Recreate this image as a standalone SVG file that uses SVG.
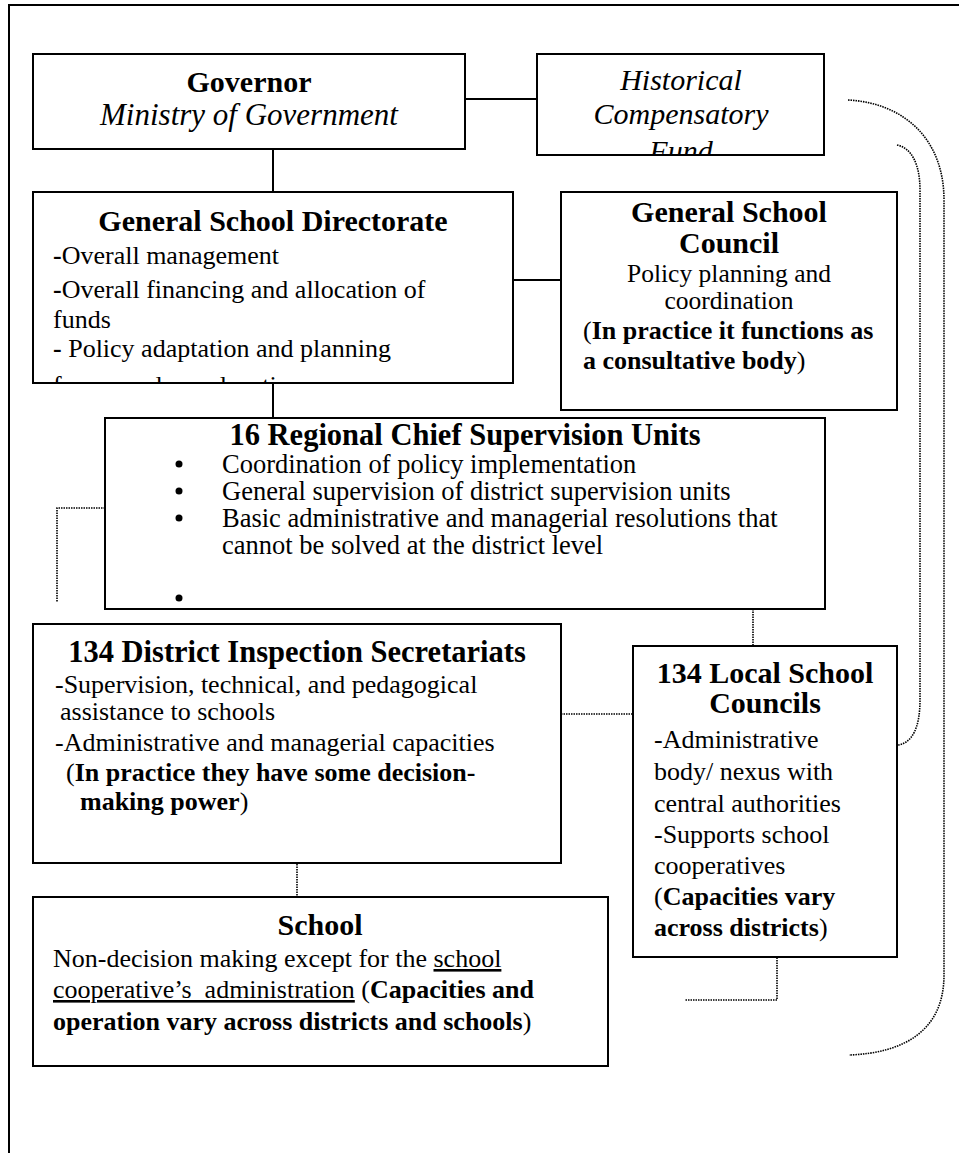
<svg xmlns="http://www.w3.org/2000/svg" width="959" height="1153" viewBox="0 0 959 1153">
<style>
text{font-family:"Liberation Serif","Times New Roman",serif;fill:#000}
.t{font-size:30px;font-weight:bold;text-anchor:middle}
.it{font-size:30px;font-style:italic;text-anchor:middle}
.b{font-size:26px}
.bc{font-size:25.5px;text-anchor:middle}
.bold{font-weight:bold}
.box{fill:#fff;stroke:#000;stroke-width:2}
.solid{fill:none;stroke:#000;stroke-width:2}
.dot{fill:none;stroke:#000;stroke-width:1.6;stroke-dasharray:1.5 1}
</style>
<defs>
<clipPath id="clipHist"><rect x="537" y="54" width="287" height="100"/></clipPath>
<clipPath id="clipDir"><rect x="33" y="192" width="480" height="190"/></clipPath>
</defs>
<rect x="0" y="0" width="959" height="1153" fill="#fff"/>
<path class="solid" d="M9,1153 V5 H959"/>

<g id="connectors">
<path class="solid" d="M465,99 H537"/>
<path class="solid" d="M273,149 V192"/>
<path class="solid" d="M513,280 H561"/>
<path class="solid" d="M273,383 V418"/>
<path class="dot" d="M105,508 H57 V602"/>
<path class="dot" d="M753,599 V646"/>
<path class="dot" d="M561,714 H633"/>
<path class="dot" d="M297,849 V897"/>
<path class="dot" d="M777,940 V1000 H685"/>
<path class="dot" d="M848,100 C905,103 944,140 944,200 L944,975 C944,1030 905,1053 849,1055"/>
<path class="dot" d="M897,145 C912,148 920,165 920,190 L920,700 C920,728 912,743 898,745"/>
</g>

<g id="governor">
<rect class="box" x="33" y="54" width="432" height="95"/>
<text class="t" x="249" y="92">Governor</text>
<text class="it" x="249" y="125" style="font-size:31px">Ministry of Government</text>
</g>

<g id="historical-fund">
<rect class="box" x="537" y="54" width="287" height="101"/>
<g clip-path="url(#clipHist)">
<text class="it" x="681" y="90">Historical</text>
<text class="it" x="681" y="124">Compensatory</text>
<text class="it" x="681" y="161">Fund</text>
</g>
</g>

<g id="directorate">
<rect class="box" x="33" y="192" width="480" height="191"/>
<text class="t" x="273" y="231">General School Directorate</text>
<g clip-path="url(#clipDir)">
<text class="b" x="53" y="264"><tspan class="bold">-</tspan>Overall management</text>
<text class="b" x="53" y="298"><tspan class="bold">-</tspan>Overall financing and allocation of</text>
<text class="b" x="53" y="328">funds</text>
<text class="b" x="53" y="357"><tspan class="bold">-</tspan> Policy adaptation and planning</text>
<text class="b" x="53" y="394">for secondary education</text>
</g>
</g>

<g id="council">
<rect class="box" x="561" y="192" width="336" height="218"/>
<text class="t" x="729" y="222">General School</text>
<text class="t" x="729" y="253">Council</text>
<text class="bc" x="729" y="282">Policy planning and</text>
<text class="bc" x="729" y="309">coordination</text>
<text class="b" x="583" y="339">(<tspan class="bold">In practice it functions as</tspan></text>
<text class="b" x="583" y="369"><tspan class="bold">a consultative body</tspan>)</text>
</g>

<g id="regional">
<rect class="box" x="105" y="418" width="720" height="191"/>
<text class="t" x="465" y="445" style="font-size:30.5px">16 Regional Chief Supervision Units</text>
<circle cx="179" cy="464" r="3.5"/>
<circle cx="179" cy="491" r="3.5"/>
<circle cx="179" cy="518" r="3.5"/>
<circle cx="179" cy="598" r="3.5"/>
<text class="b" x="222" y="473" style="font-size:26.5px">Coordination of policy implementation</text>
<text class="b" x="222" y="500" style="font-size:26.5px">General supervision of district supervision units</text>
<text class="b" x="222" y="527" style="font-size:26.5px">Basic administrative and managerial resolutions that</text>
<text class="b" x="222" y="554" style="font-size:26.5px">cannot be solved at the district level</text>
</g>

<g id="district">
<rect class="box" x="33" y="624" width="528" height="239"/>
<text class="t" x="297" y="662" style="font-size:30.5px">134 District Inspection Secretariats</text>
<text class="b" x="55" y="693">-Supervision, technical, and pedagogical</text>
<text class="b" x="60" y="720">assistance to schools</text>
<text class="b" x="55" y="751">-Administrative and managerial capacities</text>
<text class="b" x="66" y="781">(<tspan class="bold">In practice they have some decision-</tspan></text>
<text class="b" x="80" y="810"><tspan class="bold">making power</tspan>)</text>
</g>

<g id="local-councils">
<rect class="box" x="633" y="646" width="264" height="311"/>
<text class="t" x="765" y="683">134 Local School</text>
<text class="t" x="765" y="713">Councils</text>
<text class="b" x="654" y="748">-Administrative</text>
<text class="b" x="654" y="780">body/ nexus with</text>
<text class="b" x="654" y="812">central authorities</text>
<text class="b" x="654" y="843">-Supports school</text>
<text class="b" x="654" y="874">cooperatives</text>
<text class="b" x="654" y="905">(<tspan class="bold">Capacities vary</tspan></text>
<text class="b" x="654" y="936"><tspan class="bold">across districts</tspan>)</text>
</g>

<g id="school">
<rect class="box" x="33" y="897" width="575" height="169"/>
<text class="t" x="320" y="935">School</text>
<text class="b" x="53" y="967">Non-decision making except for the <tspan text-decoration="underline">school</tspan></text>
<text class="b" x="53" y="998" xml:space="preserve"><tspan text-decoration="underline">cooperative’s  administration</tspan> (<tspan class="bold">Capacities and</tspan></text>
<text class="b" x="53" y="1030"><tspan class="bold">operation vary across districts and schools</tspan>)</text>
</g>
</svg>
